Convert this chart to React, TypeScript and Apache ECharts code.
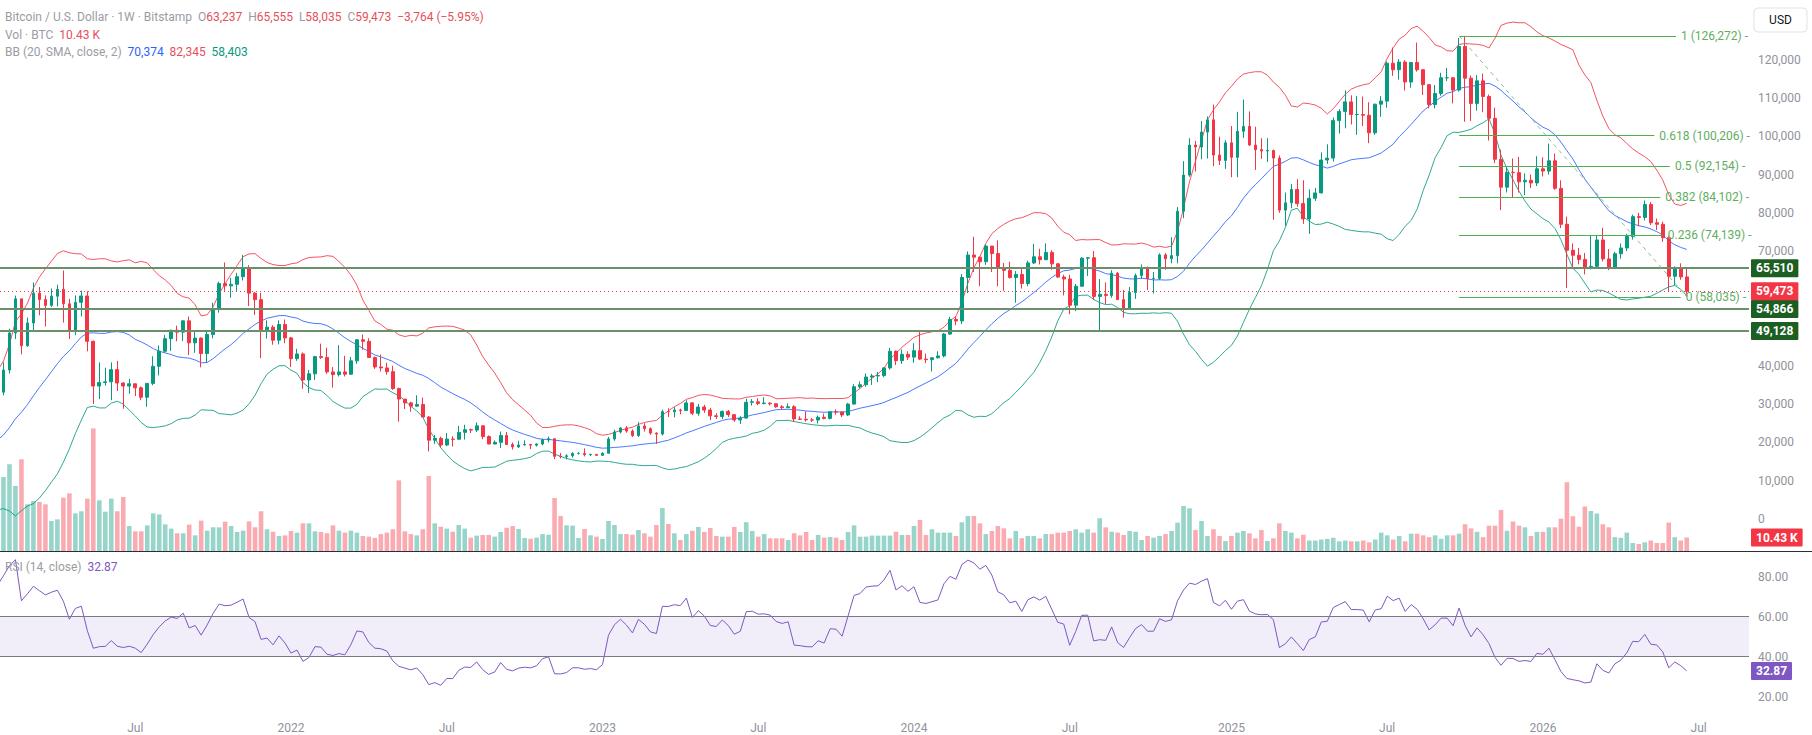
import React, { useEffect, useRef } from "react";
import * as echarts from "echarts";

// ---------------- DATA ----------------
// Week index 0 = weekly candle opening Mon 3 Jan 2022, one step = one week.
const FIRST_WEEK = -80; // Mon 22 Jun 2020 (warm-up weeks for BB / RSI)
const FIRST_VISIBLE_WEEK = -49; // Mon 25 Jan 2021

// weekly closes, highs, lows in thousands of USD (open = previous close)
const closeK = [
  // 2020 (from 22 Jun)
  9.04, 9.07, 9.25, 9.2, 9.93, 11.05, 11.68, 11.9, 11.65, 11.7, 10.25, 10.33, 10.92, 10.77, 10.67, 11.38, 11.5, 13.03, 13.74, 15.48,
  15.95, 18.4, 18.18, 19.37, 19.15, 23.48, 26.28, 32.96,
  // 2021
  38.35, 35.8, 32.28, 33.1, 38.9, 48.58, 57.5, 45.24, 51.2, 59.0, 57.35, 55.8, 58.2, 60.0, 56.2, 49.0, 56.6, 58.25, 46.4, 34.7,
  35.65, 35.8, 39.0, 35.5, 34.7, 35.3, 34.25, 31.78, 35.4, 39.87, 43.8, 47.1, 49.3, 48.8, 51.75, 46.0, 47.25, 43.2, 48.2, 54.97,
  61.5, 60.9, 61.3, 63.3, 65.5, 59.0, 57.3, 49.4, 50.1, 46.7, 50.8, 47.3,
  // 2022
  41.85, 43.1, 36.3, 37.9, 42.4, 42.2, 38.4, 37.7, 38.4, 37.8, 41.3, 46.8, 46.4, 42.15, 39.7, 39.45, 38.47, 34.05, 31.3, 30.3,
  29.45, 29.9, 26.6, 20.55, 21.03, 19.3, 20.85, 20.8, 22.6, 23.3, 23.2, 24.3, 21.5, 19.55, 19.99, 21.8, 19.4, 18.8, 19.3, 19.45,
  19.25, 19.57, 20.63, 20.92, 16.33, 16.28, 16.46, 17.1, 17.1, 16.76, 16.84, 16.6,
  // 2023
  17.13, 20.88, 22.7, 23.75, 22.94, 21.78, 24.28, 23.56, 22.4, 22.15, 28.0, 27.99, 28.45, 28.33, 30.3, 27.59, 29.23, 28.43, 26.92, 26.75,
  28.07, 27.23, 25.85, 26.34, 30.46, 30.59, 30.17, 30.25, 30.08, 29.28, 29.05, 29.3, 26.1, 26.01, 25.86, 25.83, 26.53, 26.25, 27.98, 27.93,
  27.15, 29.99, 34.52, 35.05, 37.06, 37.36, 37.45, 39.45, 43.8, 41.35, 43.0, 42.27,
  // 2024
  43.95, 41.75, 41.6, 42.1, 42.58, 48.3, 52.14, 51.73, 63.1, 68.95, 68.4, 67.2, 71.3, 69.35, 65.7, 64.95, 63.1, 63.9, 61.5, 66.9,
  68.5, 67.75, 69.65, 66.65, 63.2, 62.7, 55.85, 60.8, 68.15, 68.25, 58.15, 58.7, 58.4, 64.2, 57.3, 54.85, 59.15, 63.58, 65.6, 62.8,
  62.85, 69.0, 68.0, 68.8, 80.4, 89.85, 97.7, 97.2, 101.1, 104.3, 95.1, 93.7, 98.3,
  // 2025
  94.5, 101.3, 102.6, 97.7, 96.5, 96.15, 96.3, 94.3, 80.7, 82.6, 86.1, 82.4, 78.4, 83.8, 85.2, 93.8, 94.3, 104.1, 106.5, 109.0,
  105.7, 105.7, 105.5, 100.9, 108.4, 109.2, 119.1, 117.4, 119.4, 114.2, 119.3, 117.4, 113.5, 108.3, 111.2, 115.3, 115.3, 112.1, 123.5, 115.2,
  108.6, 114.5, 110.4, 104.7, 94.0, 86.7, 90.6, 90.5, 88.1, 88.5, 87.8, 91.5,
  // 2026
  90.9, 93.6, 86.4, 77.0, 70.2, 68.9, 67.8, 65.7, 66.0, 72.9, 67.95, 65.7, 69.3, 70.8, 73.8, 79.0, 78.8, 82.2, 77.4, 77.0,
  73.5, 63.4, 65.7, 63.237, 59.473,
];

const highK = [
  9.8, 9.3, 9.48, 9.35, 9.99, 12.1, 11.9, 12.1, 12.48, 11.75, 12.09, 10.58, 11.18, 10.9, 10.95, 11.5, 11.73, 13.35, 14.1, 15.97,
  16.49, 18.8, 19.48, 19.92, 19.42, 24.3, 28.4, 34.8,
  41.95, 40.1, 37.85, 38.5, 40.9, 49.7, 58.35, 57.5, 52.6, 61.8, 60.6, 58.4, 60.2, 61.2, 64.9, 57.5, 58.4, 59.6, 59.5, 46.6,
  40.9, 39.5, 40.9, 41.3, 35.7, 36.6, 35.1, 34.6, 35.5, 42.5, 45.3, 48.1, 49.4, 50.5, 51.9, 52.9, 48.8, 47.4, 49.0, 56.5,
  62.0, 67.0, 63.0, 64.3, 69.0, 66.3, 59.3, 59.1, 51.9, 50.6, 51.9, 52.1,
  47.55, 44.45, 43.5, 38.9, 42.6, 45.8, 44.75, 39.7, 45.4, 42.6, 42.3, 46.9, 48.2, 47.2, 42.4, 42.9, 40.8, 40.0, 34.3, 31.3,
  30.6, 32.3, 31.7, 26.9, 21.9, 21.5, 22.4, 21.6, 24.3, 24.6, 23.6, 25.2, 24.4, 21.8, 20.5, 22.8, 22.7, 19.95, 20.4, 20.5,
  19.5, 19.7, 21.0, 21.5, 21.0, 17.2, 16.9, 17.4, 17.4, 18.4, 17.0, 16.95,
  17.4, 21.4, 23.3, 23.95, 24.25, 23.4, 25.25, 25.0, 23.9, 22.6, 28.5, 28.9, 29.2, 28.8, 31.0, 30.5, 30.0, 29.8, 29.0, 27.6,
  28.3, 28.45, 27.3, 26.8, 31.4, 31.3, 31.5, 31.8, 30.4, 30.0, 29.7, 30.2, 29.7, 26.8, 28.1, 26.3, 27.0, 27.5, 28.0, 28.6,
  27.9, 30.3, 35.2, 35.9, 38.0, 37.9, 38.4, 39.6, 44.7, 44.0, 44.3, 43.8,
  45.9, 49.0, 43.2, 42.2, 43.8, 48.6, 52.8, 52.9, 64.0, 69.9, 73.75, 68.6, 71.7, 71.3, 72.8, 66.9, 67.2, 64.8, 65.5, 67.5,
  71.9, 70.6, 72.0, 70.2, 66.9, 63.8, 63.8, 61.4, 68.4, 68.4, 70.0, 62.7, 61.8, 65.0, 64.5, 59.8, 60.6, 64.1, 66.5, 66.0,
  64.5, 69.4, 69.5, 73.6, 81.5, 93.5, 99.5, 98.8, 104.0, 105.2, 108.3, 99.9, 99.0,
  102.7, 106.4, 109.6, 106.5, 102.5, 99.5, 99.5, 96.5, 95.0, 85.3, 87.5, 88.8, 88.5, 86.1, 86.5, 95.8, 97.9, 104.9, 107.1, 112.0,
  110.7, 110.5, 110.4, 108.9, 108.5, 110.5, 119.5, 123.2, 120.2, 119.9, 119.4, 124.5, 117.6, 113.6, 113.4, 116.6, 117.9, 115.4, 125.7, 126.272,
  115.9, 116.0, 116.4, 110.9, 107.5, 96.5, 91.9, 94.2, 94.6, 90.3, 90.0, 94.8,
  94.5, 98.1, 95.5, 88.5, 79.0, 72.0, 70.8, 69.5, 74.1, 74.2, 76.1, 70.5, 69.8, 72.0, 74.5, 79.5, 80.0, 83.2, 82.8, 78.5,
  77.7, 74.0, 66.0, 66.8, 65.555,
];

const lowK = [
  8.85, 8.9, 9.05, 9.02, 9.15, 9.9, 10.95, 11.2, 11.4, 11.1, 9.9, 9.85, 10.2, 10.13, 10.38, 10.53, 11.2, 11.42, 12.99, 13.55,
  14.86, 15.8, 16.2, 18.11, 17.6, 19.0, 22.4, 26.0,
  27.7, 30.3, 28.8, 29.2, 32.3, 38.0, 47.0, 43.0, 44.95, 49.3, 53.2, 50.3, 55.4, 55.5, 51.3, 47.0, 48.0, 52.9, 43.8, 30.0,
  31.3, 34.8, 31.0, 33.4, 28.8, 32.7, 32.1, 31.0, 29.3, 34.9, 37.5, 43.4, 43.9, 46.4, 46.5, 42.8, 43.4, 39.6, 40.8, 47.2,
  53.9, 59.6, 57.8, 59.4, 62.3, 55.6, 53.3, 42.0, 47.1, 45.5, 45.6, 45.9,
  39.65, 41.3, 34.0, 32.9, 36.3, 41.8, 37.9, 34.3, 37.2, 37.2, 37.6, 40.5, 44.2, 42.1, 39.2, 38.5, 37.7, 33.7, 25.4, 28.7,
  28.0, 29.3, 26.6, 17.6, 19.6, 18.6, 19.0, 18.9, 20.7, 20.7, 22.4, 22.7, 20.8, 19.5, 19.5, 18.5, 19.3, 18.1, 18.5, 19.2,
  18.2, 18.9, 19.2, 20.0, 15.6, 15.8, 15.5, 16.0, 16.8, 16.3, 16.4, 16.45,
  16.5, 17.1, 20.4, 22.3, 22.5, 21.4, 21.4, 22.8, 21.95, 19.6, 21.8, 26.6, 26.5, 27.3, 28.2, 27.1, 26.95, 27.7, 25.8, 26.1,
  26.1, 26.6, 25.35, 24.8, 26.2, 29.6, 29.7, 29.9, 29.6, 29.0, 28.6, 29.0, 25.3, 25.8, 25.4, 25.3, 24.9, 26.0, 26.0, 27.2,
  26.6, 26.9, 29.9, 34.1, 34.5, 35.0, 35.7, 37.0, 39.0, 40.2, 40.5, 41.5,
  40.8, 41.5, 40.7, 38.5, 41.9, 42.2, 48.1, 50.6, 50.9, 59.0, 64.5, 60.8, 66.4, 64.5, 60.8, 59.6, 62.8, 56.5, 60.2, 60.8,
  66.6, 66.5, 67.6, 65.1, 63.0, 58.4, 53.5, 54.3, 60.7, 63.5, 57.2, 49.0, 56.1, 57.8, 57.2, 52.6, 54.6, 57.5, 62.7, 59.8,
  58.9, 62.4, 65.1, 66.8, 66.8, 78.6, 89.4, 90.8, 94.0, 94.2, 92.2, 92.5, 91.5,
  89.3, 89.3, 99.6, 97.5, 91.2, 94.1, 93.3, 78.2, 80.0, 76.6, 81.2, 81.6, 77.1, 74.5, 83.1, 85.1, 92.8, 93.4, 100.7, 102.1,
  103.1, 100.4, 102.7, 98.2, 100.4, 105.1, 107.5, 115.8, 114.8, 112.0, 112.7, 116.9, 110.8, 107.3, 107.3, 110.6, 114.4, 108.6, 111.7, 103.8,
  104.0, 106.7, 106.3, 98.9, 93.0, 80.7, 85.3, 83.9, 85.3, 84.6, 86.5, 87.0,
  89.5, 90.0, 86.0, 76.0, 60.3, 65.8, 66.5, 63.9, 65.2, 65.5, 67.3, 65.0, 65.3, 68.0, 70.0, 73.0, 76.5, 78.0, 76.8, 75.5,
  72.4, 59.5, 61.0, 62.5, 58.035,
];

// weekly volume (thousands of BTC), from FIRST_VISIBLE_WEEK
const volumeK = [
  55.0,
  57.2, 67.0, 50.3, 70.9, 36.1, 38.7, 37.9, 36.1, 23.2, 24.5, 41.2, 44.6, 29.1, 30.7, 40.5, 94.8, 39.2, 30.4, 40.5, 30.7,
  41.7, 19.3, 15.2, 15.2, 19.8, 29.1, 28.3, 20.6, 17.3, 13.7, 13.7, 20.4, 12.1, 23.5, 15.7, 18.3, 18.3, 22.7, 19.3, 14.7,
  15.7, 22.9, 18.3, 30.7, 16.8, 14.9, 11.6, 12.1,
  15.5, 14.2, 21.4, 21.4, 15.2, 14.7, 13.7, 19.8, 15.7, 14.2, 15.7, 14.2, 11.6, 11.1, 10.1, 13.1, 14.2, 16.8, 54.6, 15.2,
  13.1, 12.1, 16.8, 58.0,
  21.4, 18.8, 17.3, 14.9, 20.1, 17.3, 10.3, 11.9, 12.4, 12.4, 11.1, 14.7, 18.0, 19.3, 17.0, 10.1, 9.5, 10.3, 13.1, 12.6,
  41.0, 27.1, 19.8, 19.6, 10.1, 17.0, 12.1, 11.1, 9.3, 23.2, 20.1, 13.1, 13.1, 12.6, 16.2, 13.7, 11.1, 20.1, 33.2, 20.9,
  13.7, 8.5, 13.1, 15.7, 18.6, 14.7, 17.8, 11.6, 11.1, 11.1, 18.6, 14.7, 22.2, 15.5, 11.1, 13.1, 9.8, 9.8, 9.8, 8.5,
  13.7, 12.1, 14.7, 8.5, 12.4, 10.3, 10.8, 10.3, 8.5, 14.7, 19.8, 11.1, 11.1,
  11.9, 11.9, 11.9, 11.9, 14.9, 12.4, 12.4, 19.3, 24.0, 12.4, 16.8, 14.2, 14.2, 14.2, 11.6, 22.2, 27.1, 27.1, 21.4, 13.1,
  15.5, 19.3, 17.5, 9.8, 15.5, 9.8, 11.6, 11.6, 9.8, 13.1, 13.1, 14.2, 14.2, 15.5, 16.8, 14.2, 16.8, 14.2, 25.3, 18.3,
  14.9, 14.2, 12.4, 15.5, 14.9, 8.5, 11.6, 10.3, 11.6, 13.1, 15.5, 21.9, 34.8, 33.0, 16.2, 23.2, 11.6, 16.8, 11.6, 7.7,
  11.6, 14.2, 15.5, 13.7, 9.8, 16.2, 7.7, 9.8, 21.4, 15.5, 14.2, 9.8,
  12.6, 8.1, 8.1, 8.9, 9.4, 10.2, 7.5, 8.1, 7.5, 7.5, 8.1, 6.7, 8.9, 14.2, 12.1, 8.9, 11.6, 7.5, 13.4, 13.4,
  12.1, 10.7, 12.1, 9.4, 12.1, 12.1, 13.4, 20.7, 17.5, 14.8, 10.7, 19.6, 19.6, 31.7, 15.6, 22.8, 19.6, 18.3, 11.6, 14.8,
  14.8, 18.3, 18.3, 25.0, 53.2, 26.9, 18.8, 34.4, 30.9, 29.0, 20.7, 18.3, 10.7, 10.2, 14.2, 6.2, 5.4, 6.7, 8.1, 6.2,
  6.2, 22.0, 10.7, 8.1, 10.43,
];

const timeTickWeeks = [-26, 0, 26, 52, 78, 104, 130, 157, 183, 209, 235];
const timeTickLabels = ["Jul", "2022", "Jul", "2023", "Jul", "2024", "Jul", "2025", "Jul", "2026", "Jul"];
const priceTicks = [0, 10000, 20000, 30000, 40000, 50000, 60000, 70000, 80000, 90000, 100000, 110000, 120000];
const rsiTicks = [20, 40, 60, 80];
const rsiBand = [40, 60];
const supportLevels = [65510, 54866, 49128];
const lastClose = 59473;
const fibLevels = [
  { ratio: "1", price: 126272 },
  { ratio: "0.618", price: 100206 },
  { ratio: "0.5", price: 92154 },
  { ratio: "0.382", price: 84102 },
  { ratio: "0.236", price: 74139 },
  { ratio: "0", price: 58035 },
];
const fibFromWeek = 195;
const fibToWeek = 233;
const legendOHLC = { o: "63,237", h: "65,555", l: "58,035", c: "59,473", chg: "\u22123,764 (\u22125.95%)" };
const legendVolume = "10.43 K";
const legendBB = ["70,374", "82,345", "58,403"];
const rsiLast = 32.87;

// ---------------- LAYOUT / STYLE ----------------
const W = 1812;
const H = 735;
const PLOT_RIGHT = 63;
const X_MIN = -48.58;
const X_MAX = 243.4;
const MAIN_TOP = 0;
const MAIN_H = 551;
const RSI_TOP = 552;
const RSI_H = 164;
const PRICE_MIN = -8418;
const PRICE_MAX = 135634;
const VOL_MAX = 426;
const RSI_MIN = 10.35;
const RSI_MAX = 92.35;
const FIB_LINE_END = [231.2, 227.6, 230.2, 228.6, 229.0, 232.0];

const UP = "#089981";
const DOWN = "#f23645";
const AXIS_TXT = "#8f929b";
const LEGEND_GREY = "#9a9ca4";
const LEGEND_RED = "#e5505b";
const FONT = "Roboto, 'Noto Sans', Arial, sans-serif";
const FIB_GREEN = "#4caf50";
const INVISIBLE = { color: "rgba(0,0,0,0)", width: 0 };

function fmt(v: number) {
  return Math.round(v).toLocaleString("en-US");
}

function bollinger(values: number[], period: number, mult: number) {
  const mid: (number | null)[] = [];
  const up: (number | null)[] = [];
  const lo: (number | null)[] = [];
  for (let i = 0; i < values.length; i++) {
    if (i < period - 1) {
      mid.push(null); up.push(null); lo.push(null);
      continue;
    }
    let s = 0;
    for (let j = i - period + 1; j <= i; j++) s += values[j];
    const m = s / period;
    let v = 0;
    for (let j = i - period + 1; j <= i; j++) v += (values[j] - m) * (values[j] - m);
    const sd = Math.sqrt(v / period);
    mid.push(m); up.push(m + mult * sd); lo.push(m - mult * sd);
  }
  return { mid, up, lo };
}

function rsi(values: number[], period: number) {
  const out: (number | null)[] = values.map(() => null);
  let g = 0;
  let l = 0;
  for (let i = 1; i <= period; i++) {
    const d = values[i] - values[i - 1];
    if (d > 0) g += d; else l -= d;
  }
  let ag = g / period;
  let al = l / period;
  out[period] = al === 0 ? 100 : 100 - 100 / (1 + ag / al);
  for (let i = period + 1; i < values.length; i++) {
    const d = values[i] - values[i - 1];
    ag = (ag * (period - 1) + Math.max(d, 0)) / period;
    al = (al * (period - 1) + Math.max(-d, 0)) / period;
    out[i] = al === 0 ? 100 : 100 - 100 / (1 + ag / al);
  }
  return out;
}

const boxLabel = (bg: string, text: string) => ({
  show: true,
  position: "end",
  distance: 2,
  formatter: text,
  color: "#ffffff",
  backgroundColor: bg,
  padding: [3, 5, 2, 5],
  fontSize: 12,
  fontWeight: "bold",
  fontFamily: FONT,
  lineHeight: 13,
  borderRadius: 1,
});

function richText(x: number, y: number, text: string, rich: Record<string, string>) {
  const r: Record<string, any> = {};
  Object.keys(rich).forEach((k) => {
    r[k] = { fill: rich[k], fontSize: 12, fontFamily: FONT };
  });
  return {
    type: "text",
    x,
    y,
    silent: true,
    z: 20,
    style: { text, verticalAlign: "middle", fontSize: 12, fontFamily: FONT, fill: LEGEND_GREY, rich: r },
  };
}

function buildOption() {
  const close = closeK.map((v) => v * 1000);
  const high = highK.map((v) => v * 1000);
  const low = lowK.map((v) => v * 1000);
  const open = close.map((c, i) => (i === 0 ? c : close[i - 1]));
  const bb = bollinger(close, 20, 2);
  const r = rsi(close, 14);

  const candles: number[][] = [];
  const upper: number[][] = [];
  const basis: number[][] = [];
  const lower: number[][] = [];
  const rsiPts: number[][] = [];
  const isUp: Record<number, boolean> = {};
  for (let i = 0; i < close.length; i++) {
    const wk = FIRST_WEEK + i;
    if (wk < FIRST_VISIBLE_WEEK) continue;
    const o = open[i];
    const c = close[i];
    const hi = Math.max(high[i], o, c);
    const lo = Math.min(low[i], o, c);
    candles.push([wk, o, c, lo, hi]);
    isUp[wk] = c >= o;
    upper.push([wk, bb.up[i] as number]);
    basis.push([wk, bb.mid[i] as number]);
    lower.push([wk, bb.lo[i] as number]);
    rsiPts.push([wk, r[i] as number]);
  }
  const vols = volumeK.map((v, i) => {
    const wk = FIRST_VISIBLE_WEEK + i;
    return {
      value: [wk, v],
      itemStyle: { color: isUp[wk] ? "rgba(8,153,129,0.42)" : "rgba(242,54,69,0.42)" },
    };
  });

  const priceMarkData: any[] = [];
  supportLevels.forEach((lv) => {
    priceMarkData.push({
      yAxis: lv,
      lineStyle: { color: "#6b8f6b", width: 2, type: "solid" },
      label: boxLabel("#1d5e22", fmt(lv)),
    });
  });
  priceMarkData.push({
    yAxis: lastClose,
    lineStyle: { color: DOWN, width: 1, type: [1, 3] },
    label: boxLabel(DOWN, fmt(lastClose)),
  });
  fibLevels.forEach((f, i) => {
    priceMarkData.push([
      {
        coord: [fibFromWeek, f.price],
        lineStyle: { color: FIB_GREEN, width: 1, type: "solid" },
        label: {
          show: true,
          position: "end",
          distance: 5,
          formatter: `${f.ratio} (${fmt(f.price)}) -`,
          color: "#5fae5f",
          fontSize: 12,
          fontFamily: FONT,
        },
      },
      { coord: [FIB_LINE_END[i], f.price] },
    ]);
  });
  priceMarkData.push([
    {
      coord: [fibFromWeek, fibLevels[0].price],
      lineStyle: { color: "#8dbf8d", width: 1, type: [4, 4] },
      label: { show: false },
    },
    { coord: [fibToWeek, fibLevels[fibLevels.length - 1].price] },
  ]);

  const grey = AXIS_TXT;
  return {
    animation: false,
    backgroundColor: "#ffffff",
    textStyle: { fontFamily: FONT },
    grid: [
      { left: 0, right: PLOT_RIGHT, top: MAIN_TOP, height: MAIN_H },
      { left: 0, right: PLOT_RIGHT, top: RSI_TOP, height: RSI_H },
    ],
    xAxis: [
      {
        type: "value", gridIndex: 0, min: X_MIN, max: X_MAX,
        axisLine: { show: false }, axisTick: { show: false }, axisLabel: { show: false }, splitLine: { show: false },
      },
      {
        type: "value", gridIndex: 1, min: X_MIN, max: X_MAX,
        axisLine: { show: false }, axisTick: { show: false }, splitLine: { show: false },
        axisLabel: {
          show: true,
          customValues: timeTickWeeks,
          formatter: (v: number) => {
            const k = timeTickWeeks.indexOf(Math.round(v));
            return k >= 0 ? timeTickLabels[k] : "";
          },
          color: grey, fontSize: 12, margin: 6, fontFamily: FONT,
        },
      },
    ],
    yAxis: [
      {
        type: "value", gridIndex: 0, position: "right", min: PRICE_MIN, max: PRICE_MAX,
        axisLine: { show: false }, axisTick: { show: false }, splitLine: { show: false },
        axisLabel: {
          customValues: priceTicks,
          formatter: (v: number) => fmt(v),
          color: grey, fontSize: 12, margin: 9, fontFamily: FONT,
        },
      },
      {
        type: "value", gridIndex: 0, min: 0, max: VOL_MAX, show: false,
        axisLine: { show: false }, axisTick: { show: false }, axisLabel: { show: false }, splitLine: { show: false },
      },
      {
        type: "value", gridIndex: 1, position: "right", min: RSI_MIN, max: RSI_MAX,
        axisLine: { show: false }, axisTick: { show: false }, splitLine: { show: false },
        axisLabel: {
          customValues: rsiTicks,
          formatter: (v: number) => v.toFixed(2),
          color: grey, fontSize: 12, margin: 9, fontFamily: FONT,
        },
      },
    ],
    series: [
      {
        type: "bar",
        name: "Volume",
        xAxisIndex: 0,
        yAxisIndex: 1,
        barWidth: 4.6,
        data: vols,
        silent: true,
        clip: true,
        z: 1,
        markLine: {
          silent: true,
          symbol: ["none", "none"],
          data: [
            {
              yAxis: volumeK[volumeK.length - 1],
              lineStyle: INVISIBLE,
              label: boxLabel(DOWN, legendVolume),
            },
          ],
        },
      },
      {
        type: "line", name: "BB upper", xAxisIndex: 0, yAxisIndex: 0, data: upper,
        showSymbol: false, symbol: "none", silent: true, clip: true, z: 3,
        lineStyle: { color: "#f23645", width: 1, opacity: 0.85 },
      },
      {
        type: "line", name: "BB basis", xAxisIndex: 0, yAxisIndex: 0, data: basis,
        showSymbol: false, symbol: "none", silent: true, clip: true, z: 3,
        lineStyle: { color: "#2962ff", width: 1, opacity: 0.85 },
      },
      {
        type: "line", name: "BB lower", xAxisIndex: 0, yAxisIndex: 0, data: lower,
        showSymbol: false, symbol: "none", silent: true, clip: true, z: 3,
        lineStyle: { color: "#089981", width: 1, opacity: 0.85 },
      },
      {
        type: "candlestick",
        name: "BTCUSD",
        xAxisIndex: 0,
        yAxisIndex: 0,
        data: candles,
        encode: { x: 0, y: [1, 2, 3, 4] },
        barWidth: 3.2,
        silent: true,
        clip: true,
        z: 4,
        itemStyle: { color: UP, color0: DOWN, borderColor: UP, borderColor0: DOWN, borderWidth: 1 },
        markLine: {
          silent: true,
          symbol: ["none", "none"],
          z: 5,
          data: priceMarkData,
        },
      },
      {
        type: "line",
        name: "RSI",
        xAxisIndex: 1,
        yAxisIndex: 2,
        data: rsiPts,
        showSymbol: false,
        symbol: "none",
        silent: true,
        clip: true,
        z: 3,
        lineStyle: { color: "#7e57c2", width: 1 },
        markArea: {
          silent: true,
          itemStyle: { color: "rgba(126,87,194,0.1)" },
          data: [[{ yAxis: rsiBand[0] }, { yAxis: rsiBand[1] }]],
        },
        markLine: {
          silent: true,
          symbol: ["none", "none"],
          data: [
            { yAxis: rsiBand[1], lineStyle: { color: "#787b86", width: 1, type: "solid" }, label: { show: false } },
            { yAxis: rsiBand[0], lineStyle: { color: "#787b86", width: 1, type: "solid" }, label: { show: false } },
            { yAxis: rsiLast, lineStyle: INVISIBLE, label: boxLabel("#7e57c2", rsiLast.toFixed(2)) },
          ],
        },
      },
    ],
    graphic: [
      {
        type: "line",
        silent: true,
        shape: { x1: 0, y1: MAIN_H + 0.5, x2: W, y2: MAIN_H + 0.5 },
        style: { stroke: "#2a2e39", lineWidth: 1 },
        z: 10,
      },
      richText(
        5,
        17,
        "{g|Bitcoin / U.S. Dollar · 1W · Bitstamp}  {g|O}{r|" + legendOHLC.o + "}  {g|H}{r|" + legendOHLC.h +
          "}  {g|L}{r|" + legendOHLC.l + "}  {g|C}{r|" + legendOHLC.c + "}  {r|" + legendOHLC.chg + "}",
        { g: LEGEND_GREY, r: LEGEND_RED }
      ),
      richText(5, 35, "{g|Vol · BTC}  {r|" + legendVolume + "}", { g: LEGEND_GREY, r: LEGEND_RED }),
      richText(
        5,
        52,
        "{g|BB (20, SMA, close, 2)}  {b|" + legendBB[0] + "}  {r|" + legendBB[1] + "}  {t|" + legendBB[2] + "}",
        { g: LEGEND_GREY, b: "#2962ff", r: LEGEND_RED, t: "#089981" }
      ),
      richText(5, 567, "{g|RSI (14, close)}  {p|" + rsiLast.toFixed(2) + "}", { g: LEGEND_GREY, p: "#7e57c2" }),
      {
        type: "group",
        x: 1754,
        y: 8,
        silent: true,
        z: 20,
        children: [
          {
            type: "rect",
            shape: { x: 0, y: 0, width: 53, height: 24, r: 4 },
            style: { fill: "#ffffff", stroke: "#e0e3eb", lineWidth: 1 },
          },
          {
            type: "text",
            x: 26.5,
            y: 12,
            style: {
              text: "USD",
              align: "center",
              verticalAlign: "middle",
              fill: "#131722",
              fontSize: 12,
              fontFamily: FONT,
            },
          },
        ],
      },
    ],
  };
}

export default function App() {
  const ref = useRef<HTMLDivElement>(null);
  useEffect(() => {
    document.body.style.margin = "0";
    document.body.style.overflow = "hidden";
    const el = ref.current;
    if (!el) return;
    const chart = echarts.init(el, null, { renderer: "svg", width: W, height: H });
    chart.setOption(buildOption() as any);
    return () => chart.dispose();
  }, []);
  return (
    <div
      ref={ref}
      style={{ position: "absolute", left: 0, top: 0, width: W, height: H, background: "#ffffff" }}
    />
  );
}
